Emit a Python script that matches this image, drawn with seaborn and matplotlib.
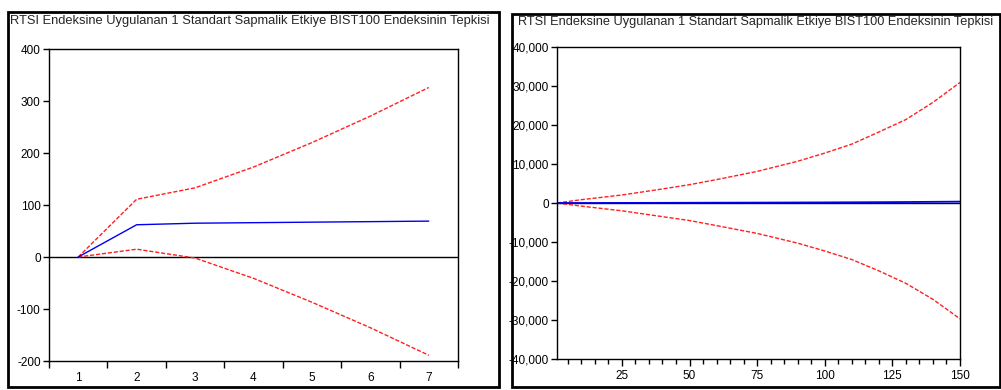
import numpy as np
import pandas as pd
import matplotlib
matplotlib.use("Agg")
import matplotlib.pyplot as plt
import matplotlib.ticker as mticker
from matplotlib.patches import Rectangle
import seaborn as sns

title = "RTSI Endeksine Uygulanan 1 Standart Sapmalik Etkiye BIST100 Endeksinin Tepkisi"

# left panel: 7 periods
periods_l = [1, 2, 3, 4, 5, 6, 7]
resp_l = [0, 62, 65, 66, 67, 68, 69]
upper_l = [0, 111, 133, 173, 220, 271, 326]
lower_l = [0, 15, -2, -41, -87, -136, -189]

# right panel: 150 periods, values read at selected periods
periods_r = [1, 10, 25, 40, 50, 60, 75, 90, 100, 110, 120, 130, 140, 150]
resp_r = [0, 5, 20, 40, 60, 80, 100, 130, 150, 180, 210, 250, 300, 350]
upper_r = [0, 850, 2050, 3600, 4700, 6000, 8100, 10700, 12800, 15100, 18200, 21400, 25800, 30900]
lower_r = [0, -800, -2000, -3500, -4500, -5800, -7800, -10300, -12300, -14500, -17400, -20600, -24700, -29700]

sns.set_style("ticks")
plt.rcParams['font.family'] = ['Liberation Sans', 'DejaVu Sans']
plt.rcParams['axes.linewidth'] = 1.0
plt.rcParams['axes.unicode_minus'] = False

fig = plt.figure(figsize=(10.01, 3.9), dpi=100)

# panel frames
for x0, x1, y0, y1 in [(8, 499, 12, 387), (512, 1000, 14, 387)]:
    fig.patches.append(Rectangle((x0 / 1001, (390 - y1) / 390), (x1 - x0) / 1001, (y1 - y0) / 390,
                                 transform=fig.transFigure, fill=False, edgecolor='black', lw=2))

fig.text(10 / 1001, 1 - 21 / 390, title, fontsize=9.3, va='center', ha='left')
fig.text(518 / 1001, 1 - 22 / 390, title, fontsize=9.2, va='center', ha='left')

red = '#ff2020'
blue = '#0000ee'
dash = (0, (3, 1.3))

ax1 = fig.add_axes([49 / 1001, 29 / 390, 409 / 1001, 312 / 390])
ax1.axhline(0, color='black', lw=1)
sns.lineplot(x=periods_l, y=upper_l, ax=ax1, color=red, lw=1, linestyle=dash)
sns.lineplot(x=periods_l, y=lower_l, ax=ax1, color=red, lw=1, linestyle=dash)
sns.lineplot(x=periods_l, y=resp_l, ax=ax1, color=blue, lw=1)
ax1.set_xlim(0.5, 7.5)
ax1.set_ylim(-200, 400)
ax1.set_yticks([-200, -100, 0, 100, 200, 300, 400])
ax1.set_xticks(periods_l)
ax1.set_xticks(np.arange(0.5, 8, 1), minor=True)
ax1.tick_params(axis='x', which='major', length=0, pad=8)
ax1.tick_params(axis='x', which='minor', length=5, width=1, color='black')
ax1.tick_params(axis='y', length=4, width=1, color='black', pad=2)

ax2 = fig.add_axes([557 / 1001, 31 / 390, 403 / 1001, 312 / 390])
ax2.axhline(0, color='black', lw=1)
sns.lineplot(x=periods_r, y=upper_r, ax=ax2, color=red, lw=1, linestyle=dash)
sns.lineplot(x=periods_r, y=lower_r, ax=ax2, color=red, lw=1, linestyle=dash)
sns.lineplot(x=periods_r, y=resp_r, ax=ax2, color=blue, lw=1.3)
ax2.set_xlim(1, 150)
ax2.set_ylim(-40000, 40000)
ax2.set_yticks(range(-40000, 40001, 10000))
ax2.yaxis.set_major_formatter(mticker.FuncFormatter(lambda v, p: f"{int(v):,}"))
ax2.set_xticks([25, 50, 75, 100, 125, 150])
ax2.xaxis.set_minor_locator(mticker.MultipleLocator(5))
ax2.tick_params(axis='x', which='major', length=5, width=1, color='black', pad=3)
ax2.tick_params(axis='x', which='minor', length=3.5, width=1, color='black')
ax2.tick_params(axis='y', length=4, width=1, color='black', pad=2)

for ax in (ax1, ax2):
    for s in ax.spines.values():
        s.set_color('black')
        s.set_visible(True)
    ax.tick_params(labelsize=8.5, colors='black')
    ax.set_xlabel('')
    ax.set_ylabel('')

fig.savefig("out.png", dpi=100)
